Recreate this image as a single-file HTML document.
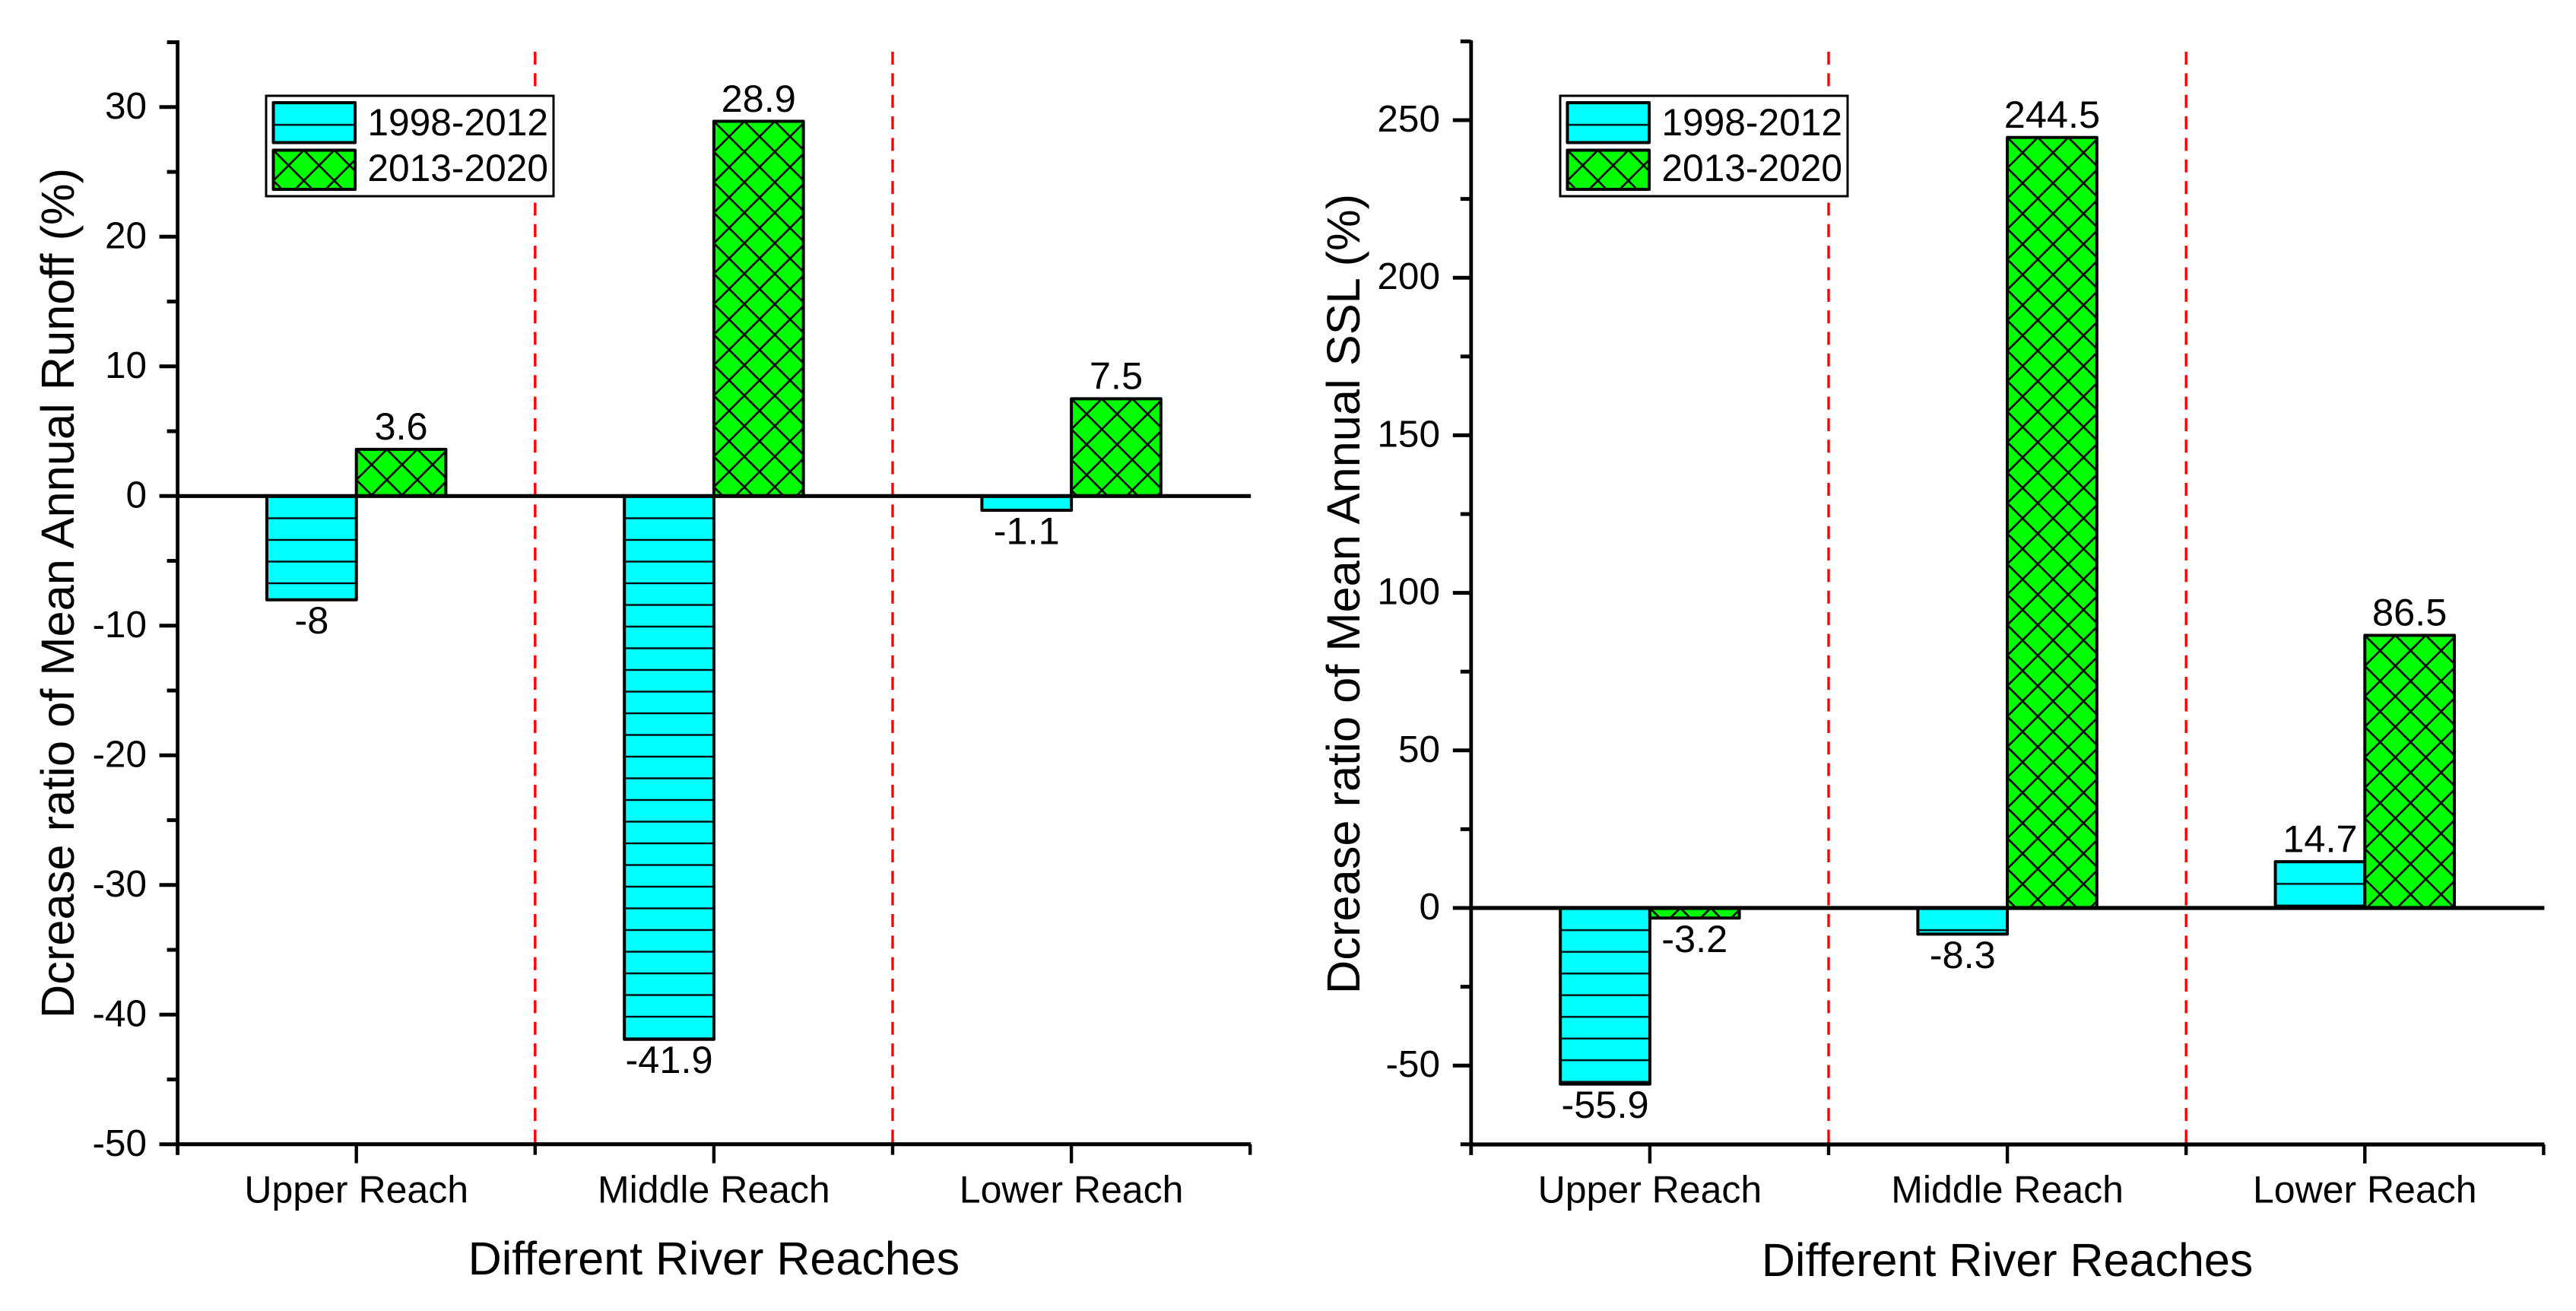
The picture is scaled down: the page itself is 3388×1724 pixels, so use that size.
<!DOCTYPE html>
<html lang="en">
<head>
<meta charset="utf-8">
<title>Decrease ratio of mean annual runoff and SSL by river reach</title>
<style>
  html, body { margin: 0; padding: 0; background: #ffffff; }
  #figure { display: block; width: 3388px; height: 1724px; }
  text { font-family: "Liberation Sans", Arial, sans-serif; fill: #000; }
</style>
</head>
<body>
<svg id="figure" xmlns="http://www.w3.org/2000/svg" width="3388" height="1724" viewBox="0 0 3388 1724">
  <defs id="defs"></defs>
  <g id="chart-runoff"></g>
  <g id="chart-ssl"></g>
</svg>
<script>
// ---- data ----
var categories = ["Upper Reach", "Middle Reach", "Lower Reach"];
var seriesNames = ["1998-2012", "2013-2020"];

var runoffEarly = [-8, -41.9, -1.1];
var runoffLate = [3.6, 28.9, 7.5];
var runoffMajorTicks = [-50, -40, -30, -20, -10, 0, 10, 20, 30];
var runoffMinorTicks = [-45, -35, -25, -15, -5, 5, 15, 25, 35];

var sslEarly = [-55.9, -8.3, 14.7];
var sslLate = [-3.2, 244.5, 86.5];
var sslMajorTicks = [-50, 0, 50, 100, 150, 200, 250];
var sslMinorTicks = [-75, -25, 25, 75, 125, 175, 225, 275];

// ---- helpers ----
var NS = "http://www.w3.org/2000/svg";
var defs = document.getElementById("defs");
var patternCount = 0;

function make(tag, attrs, parent) {
  var node = document.createElementNS(NS, tag);
  for (var key in attrs) { node.setAttribute(key, attrs[key]); }
  parent.appendChild(node);
  return node;
}

function hatchFill(kind, x, y) {
  patternCount += 1;
  var id = "hatch-" + patternCount;
  if (kind === 0) {
    var h = 28.5;
    var p0 = make("pattern", { id: id, patternUnits: "userSpaceOnUse", x: x, y: y + 0.7, width: 40, height: h }, defs);
    make("rect", { x: 0, y: 0, width: 40, height: h, fill: "#00ffff" }, p0);
    make("rect", { x: 0, y: 0, width: 40, height: 1.2, fill: "#000a0a" }, p0);
    make("rect", { x: 0, y: h - 1.2, width: 40, height: 1.2, fill: "#000a0a" }, p0);
  } else {
    var s = 40.07;
    var p1 = make("pattern", { id: id, patternUnits: "userSpaceOnUse", x: x, y: y, width: s, height: s }, defs);
    make("rect", { x: 0, y: 0, width: s, height: s, fill: "#00ff00" }, p1);
    make("line", { x1: -4, y1: -4, x2: s + 4, y2: s + 4, stroke: "#000", "stroke-width": 2.6 }, p1);
    make("line", { x1: s + 4, y1: -4, x2: -4, y2: s + 4, stroke: "#000", "stroke-width": 2.6 }, p1);
  }
  return "url(#" + id + ")";
}

function drawChart(root, cfg, early, late, majorTicks, minorTicks) {
  var AXIS_RIGHT = cfg.axisX + 6 * cfg.step;
  function yScale(v) { return cfg.zeroY - v * cfg.pxPerUnit; }
  function xCenter(i) { return cfg.axisX + cfg.step * (2 * i + 1); }

  // red separators
  for (var d = 1; d < categories.length; d++) {
    var sep = make("line", { x1: cfg.axisX + 2 * d * cfg.step, x2: cfg.axisX + 2 * d * cfg.step, y1: 68, y2: cfg.bottomY, stroke: "#ff0000", "stroke-width": 3.4, "stroke-dasharray": "17 11.35" }, root);
    
    
  }

  // bars and value labels
  var seriesList = [early, late];
  seriesList.forEach(function (values, s) {
    values.forEach(function (v, i) {
      var x = xCenter(i) + (s === 0 ? -cfg.barW : 0);
      var top = Math.min(yScale(v), yScale(0));
      var height = Math.abs(yScale(v) - yScale(0));
      var bar = make("rect", { x: x, y: top, width: cfg.barW, height: height, fill: hatchFill(s, x, top), stroke: "#000", "stroke-width": 4, "stroke-linejoin": "round" }, root);
      
      

      var labelY = v >= 0 ? yScale(v) - 12.8 : yScale(v) + 44.5;
      var label = make("text", { x: x + cfg.barW / 2, y: labelY, "text-anchor": "middle", "font-size": 50.5 }, root);
      label.textContent = String(v);
      
      
    });
  });

  // axis lines
  var yAxis = make("line", { x1: cfg.axisX, x2: cfg.axisX, y1: 53, y2: cfg.bottomY + 14, stroke: "#000", "stroke-width": 4.8 }, root);
  
  

  var xAxis = make("line", { x1: cfg.axisX - 2, x2: AXIS_RIGHT + 1, y1: cfg.bottomY, y2: cfg.bottomY, stroke: "#000", "stroke-width": 5.2 }, root);
  
  

  var zeroLine = make("line", { x1: cfg.axisX, x2: AXIS_RIGHT + 1, y1: yScale(0), y2: yScale(0), stroke: "#000", "stroke-width": 5.2 }, root);
  
  

  // y ticks
  majorTicks.forEach(function (t) {
    var tick = make("line", { x1: cfg.axisX - 24, x2: cfg.axisX, y1: yScale(t), y2: yScale(t), stroke: "#000", "stroke-width": 5 }, root);
    
    

    var tl = make("text", { x: cfg.tickLabelX, y: yScale(t) + 15, "text-anchor": "end", "font-size": 49.5 }, root);
    tl.textContent = String(t);
    
    
  });
  minorTicks.forEach(function (t) {
    var tick = make("line", { x1: cfg.axisX - 14, x2: cfg.axisX, y1: yScale(t), y2: yScale(t), stroke: "#000", "stroke-width": 5 }, root);
    
    
  });

  // x ticks
  for (var m = 0; m <= categories.length; m++) {
    var minorX = make("line", { x1: cfg.axisX + 2 * m * cfg.step, x2: cfg.axisX + 2 * m * cfg.step, y1: cfg.bottomY, y2: cfg.bottomY + 14, stroke: "#000", "stroke-width": 4.4 }, root);
    
    
  }
  categories.forEach(function (name, i) {
    var majorX = make("line", { x1: xCenter(i), x2: xCenter(i), y1: cfg.bottomY, y2: cfg.bottomY + 25, stroke: "#000", "stroke-width": 4.4 }, root);
    
    

    var cl = make("text", { x: xCenter(i), y: 1581.5, "text-anchor": "middle", "font-size": 50 }, root);
    cl.textContent = name;
    
    
  });

  // axis titles
  var xTitle = make("text", { x: cfg.axisX + 3 * cfg.step, y: cfg.xTitleY, "text-anchor": "middle", "font-size": 61 }, root);
  xTitle.textContent = "Different River Reaches";
  
  

  var yTitle = make("text", { x: 0, y: 0, "text-anchor": "middle", "font-size": 61.4, transform: "translate(" + cfg.yTitleX + " " + cfg.yTitleCY + ") rotate(-90)" }, root);
  yTitle.textContent = cfg.yTitle;
  
  

  // legend
  var legend = make("g", {}, root);
  
  

  var box = make("rect", { x: cfg.legendX, y: 126, width: 378, height: 132, fill: "#fff", stroke: "#000", "stroke-width": 3 }, legend);
  
  

  var swatchTops = [135, 197.5];
  var swatchHeights = [52.5, 51.5];
  var textBaselines = [178, 238];
  seriesNames.forEach(function (name, s) {
    var sx = cfg.legendX + 9.5;
    var swatch = make("rect", { x: sx, y: swatchTops[s], width: 107.5, height: swatchHeights[s], fill: hatchFill(s, sx, swatchTops[s]), stroke: "#000", "stroke-width": 4, "stroke-linejoin": "round" }, legend);
    
    

    var lt = make("text", { x: cfg.legendX + 371, y: textBaselines[s], "text-anchor": "end", "font-size": 49.7 }, legend);
    lt.textContent = name;
    
    
  });
}

var runoffLayout = {
  axisX: 233.6, step: 235.1, zeroY: 652.3, bottomY: 1504.7, pxPerUnit: 17.05, barW: 117.7,
  tickLabelX: 193, xTitleY: 1676, yTitleX: 97, yTitleCY: 780, legendX: 350,
  yTitle: "Dcrease ratio of Mean Annual Runoff (%)"
};
var sslLayout = {
  axisX: 1934.8, step: 235.1, zeroY: 1194, bottomY: 1505, pxPerUnit: 4.144, barW: 117.7,
  tickLabelX: 1894, xTitleY: 1678, yTitleX: 1788, yTitleCY: 781, legendX: 2052,
  yTitle: "Dcrease ratio of Mean Annual SSL (%)"
};

drawChart(document.getElementById("chart-runoff"), runoffLayout, runoffEarly, runoffLate, runoffMajorTicks, runoffMinorTicks);
drawChart(document.getElementById("chart-ssl"), sslLayout, sslEarly, sslLate, sslMajorTicks, sslMinorTicks);
</script>
</body>
</html>
